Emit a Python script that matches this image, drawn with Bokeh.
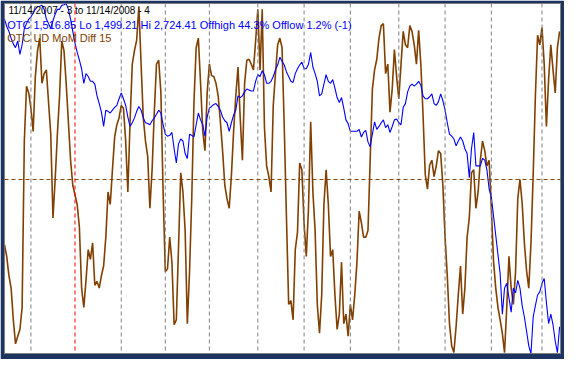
from bokeh.plotting import figure
from bokeh.models import ColumnDataSource, Range1d, Span, Label
from bokeh.embed import file_html
from bokeh.resources import INLINE

# ---- header texts ----
title_text = "11/14/2007 - 3 to 11/14/2008 - 4"
otc_last = "1,516.85"
otc_lo = 1499.21
otc_hi = 2724.41
otc_text = "OTC 1,516.85 Lo 1,499.21 Hi 2,724.41 Offhigh 44.3% Offlow 1.2% (-1)"
osc_text = "OTC UD MoM Diff 15"

# ---- month starts (trading-day index from 11/14/2007) ----
month_starts = [12, 32, 53, 73, 93, 115, 136, 157, 179, 200, 221, 244]
year_start = 32  # 1/2/2008, drawn red

# ---- OTC UD MoM Diff 15 oscillator (daily) ----
osc_values = [
    -68, -80, -100, -113, -146, -171, -163, -156, -133, 40,
    97, 90, 74, 50, 107, 134, 147, 100, 110, 114,
    80, 47, -40, 0, 47, 87, 144, 134, 100, 60,
    20, -6, -16, -26, -50, -113, -133, -105, -73, -83,
    -66, -110, -106, -113, -100, -90, -60, -13, -26, 10,
    44, 57, 64, 77, 74, 40, -13, 60, 120, 134,
    145, 180, 120, 64, 40, 24, -30, 10, 70, 120,
    124, 90, -13, -96, -93, -60, -86, -151, -146, -70,
    7, -13, -53, -150, -96, -20, 80, 137, 147, 100,
    50, 30, 90, 120, 108, 107, 100, 87, 60, 30,
    -6, -20, -30, 4, 50, 87, 117, 64, 20, 100,
    124, 125, 120, 114, 144, 177, 114, 177, 54, 14,
    3, -13, 77, 110, 140, 147, 137, 54, -40, -130,
    -126, -146, -73, -55, 17, 10, -46, -80, -30, 60,
    -13, -53, -130, -160, -120, -26, 10, -26, -80, -73,
    -120, -156, -140, -86, -150, -140, -163, -130, -146, -120,
    -86, -33, -45, -60, -60, -53, 20, 94, 114, 125,
    147, 160, 162, 110, 120, 70, 94, 135, 107, 84,
    120, 154, 140, 137, 160, 154, 140, 120, 155, 120,
    67, 5, -10, 15, 20, 3, 14, 30, 27, -6,
    -60, -100, -150, -173, -180, -153, -120, -90, -140, -113,
    -60, -40, 7, 10, -30, -13, 20, 40, 30, 14,
    20, -30, -85, -113, -133, -146, -160, -180, -133, -80,
    -113, -130, -96, -20, 0, -25, -66, -95, -113, -66,
    5, 87, 150, 140, 158, 120, 55, 104, 140, 114,
    90, 137, 154,
]
osc_lo, osc_hi = -181, 183

# ---- OTC (Nasdaq Composite) daily close ----
otc_close = [
    2670, 2644, 2627, 2603, 2583, 2570, 2593, 2546, 2580, 2637,
    2654, 2670, 2677, 2691, 2704, 2714, 2715, 2718, 2704, 2670,
    2654, 2637, 2664, 2687, 2704, 2704, 2718, 2720, 2724, 2704,
    2670, 2627, 2586, 2553, 2526, 2496, 2445, 2479, 2469, 2452,
    2452, 2442, 2401, 2374, 2344, 2294, 2351, 2347, 2341, 2351,
    2361, 2368, 2391, 2411, 2391, 2368, 2327, 2294, 2307, 2324,
    2347, 2364, 2351, 2324, 2307, 2304, 2300, 2314, 2324, 2337,
    2351, 2341, 2300, 2267, 2260, 2263, 2273, 2216, 2166, 2233,
    2250, 2243, 2199, 2182, 2267, 2263, 2257, 2300, 2341, 2317,
    2300, 2260, 2327, 2358, 2364, 2371, 2374, 2364, 2351, 2327,
    2314, 2307, 2277, 2307, 2334, 2351, 2401, 2395, 2401, 2415,
    2425, 2422, 2418, 2418, 2452, 2475, 2469, 2489, 2475, 2445,
    2445, 2452, 2469, 2492, 2509, 2536, 2522, 2509, 2485, 2469,
    2452, 2448, 2479, 2496, 2509, 2519, 2496, 2496, 2512, 2553,
    2502, 2479, 2452, 2401, 2408, 2442, 2475, 2452, 2445, 2458,
    2428, 2395, 2378, 2395, 2358, 2317, 2304, 2277, 2277, 2277,
    2277, 2284, 2257, 2273, 2280, 2240, 2223, 2267, 2310, 2284,
    2294, 2307, 2317, 2290, 2300, 2273, 2294, 2317, 2320, 2307,
    2300, 2361, 2374, 2415, 2435, 2442, 2435, 2442, 2452, 2438,
    2401, 2391, 2391, 2398, 2408, 2374, 2368, 2381, 2408, 2384,
    2351, 2307, 2267, 2260, 2250, 2226, 2243, 2257, 2243, 2216,
    2199, 2115, 2216, 2273, 2156, 2156, 2156, 2182, 2176, 2142,
    2075, 2048, 1980, 1913, 1846, 1779, 1637, 1728, 1745, 1694,
    1644, 1728, 1711, 1755, 1728, 1667, 1627, 1577, 1526, 1499,
    1627, 1667, 1704, 1715, 1745, 1762, 1678, 1604, 1637, 1600,
    1543, 1502, 1593,
]

BROWN = "#804000"
BLUE = "#0000ff"
FONT = "Liberation Sans"

osc_src = ColumnDataSource(dict(day=list(range(len(osc_values))), v=osc_values))
otc_src = ColumnDataSource(dict(day=list(range(len(otc_close))), c=otc_close))

p = figure(width=564, height=359, output_backend="svg", toolbar_location=None,
           x_range=Range1d(0, 252.4), y_range=Range1d(osc_lo, osc_hi),
           min_border_left=4, min_border_right=4, min_border_top=3, min_border_bottom=6)
p.extra_y_ranges = {"otc": Range1d(otc_lo, otc_hi)}
p.xaxis.visible = False
p.yaxis.visible = False
p.xgrid.visible = False
p.ygrid.visible = False
p.background_fill_color = "white"
p.border_fill_color = "#1d3461"
p.outline_line_color = "#808080"
p.outline_line_width = 1

for m in month_starts:
    p.add_layout(Span(location=m, dimension="height",
                      line_color="#ff0000" if m == year_start else "#808080",
                      line_dash="4 3", line_width=1))
p.add_layout(Span(location=0, dimension="width", line_color=BROWN,
                  line_dash="4 3", line_width=1))

p.line("day", "v", source=osc_src, line_color=BROWN, line_width=1.6)
p.line("day", "c", source=otc_src, line_color=BLUE, line_width=1.1, y_range_name="otc")

p.add_layout(Label(x=1.8, y=176, text=title_text, text_color="black",
                   text_font=FONT, text_font_size="10px", text_baseline="alphabetic"))
p.add_layout(Label(x=1.2, y=160.5, text=otc_text, text_color=BLUE,
                   text_font=FONT, text_font_size="11px", text_baseline="alphabetic"))
p.add_layout(Label(x=1.2, y=147.5, text=osc_text, text_color=BROWN,
                   text_font=FONT, text_font_size="11px", text_baseline="alphabetic"))

open("out.html", "w").write(file_html(p, INLINE))
